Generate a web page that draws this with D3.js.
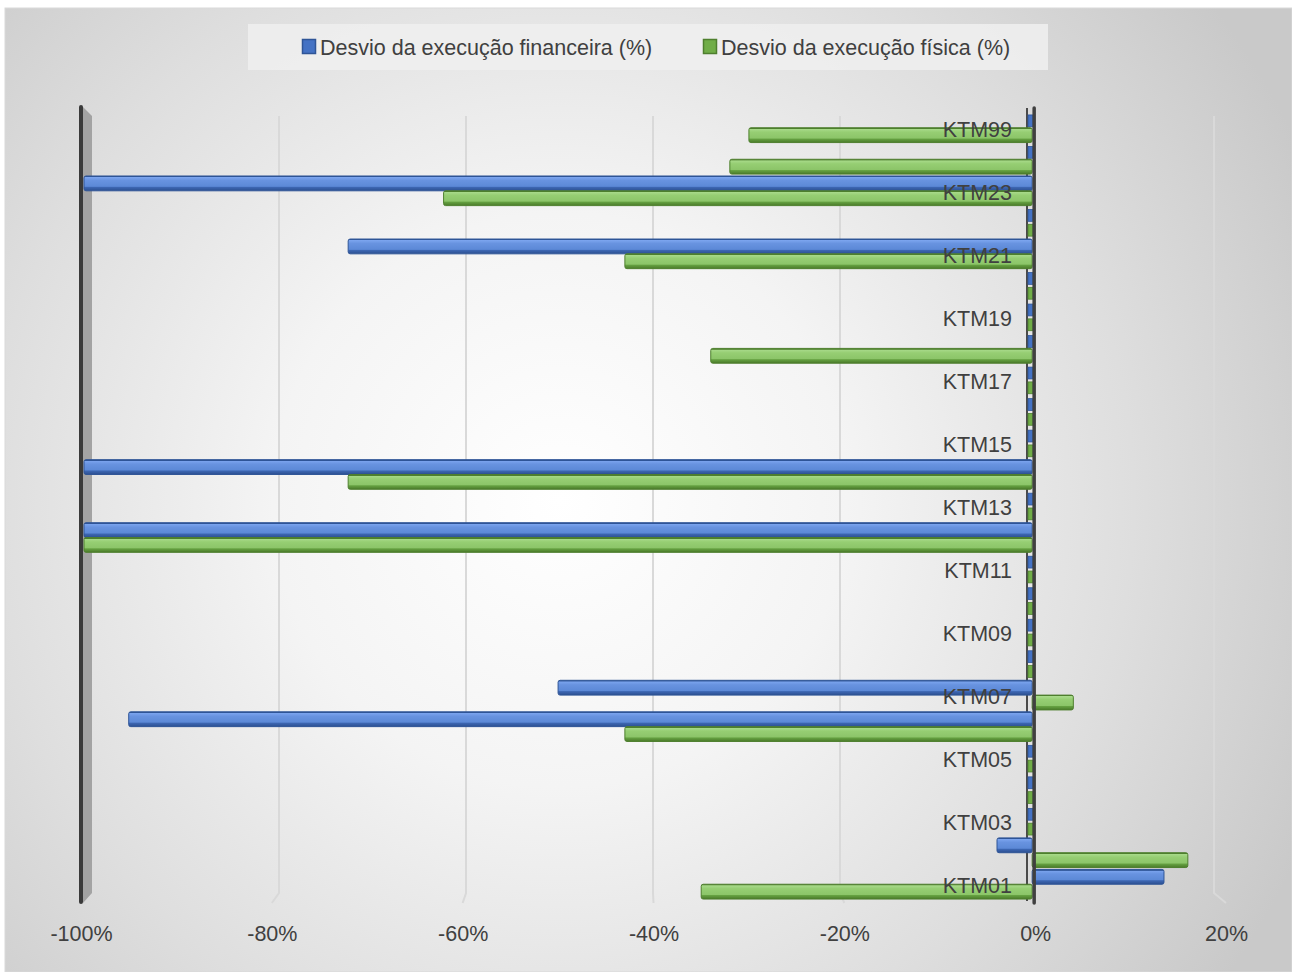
<!DOCTYPE html>
<html>
<head>
<meta charset="utf-8">
<script src="https://cdn.jsdelivr.net/npm/d3@7"></script>
<style>
  html, body { margin: 0; padding: 0; background: #ffffff; }
  svg { display: block; }
  text { font-family: "Liberation Sans", Arial, sans-serif; }
</style>
</head>
<body>
<svg id="chart" width="1292" height="972"></svg>
<script>
// ---------------- DATA ----------------
const categories = ["KTM01","KTM02","KTM03","KTM04","KTM05","KTM06","KTM07","KTM08","KTM09","KTM10",
  "KTM11","KTM12","KTM13","KTM14","KTM15","KTM16","KTM17","KTM18","KTM19","KTM20",
  "KTM21","KTM22","KTM23","KTM24","KTM99"];
const seriesNames = ["Desvio da execução financeira (%)", "Desvio da execução física (%)"];
const financeira = [13.5, -4, 0, 0, 0, -95, -50, 0, 0, 0, 0, -100, 0, -100, 0, 0, 0, 0, 0, 0, -72, 0, -100, 0, 0];
const fisica     = [-35, 16, 0, 0, 0, -43, 4, 0, 0, 0, 0, -100, 0, -72, 0, 0, 0, -34, 0, 0, -43, 0, -62, -32, -30];
const xTicks = [-100, -80, -60, -40, -20, 0, 20];
const yTickLabels = ["KTM01","KTM03","KTM05","KTM07","KTM09","KTM11","KTM13","KTM15","KTM17","KTM19","KTM21","KTM23","KTM99"];

// ---------------- SETUP ----------------
const svg = d3.select("#chart");
const defs = svg.append("defs");

const bg = defs.append("radialGradient").attr("id", "bgGrad")
  .attr("gradientUnits", "userSpaceOnUse")
  .attr("cx", 560).attr("cy", 500).attr("r", 820);
[[0, "#ffffff"], [0.35, "#f4f4f4"], [0.7, "#dedede"], [1, "#c9c9c9"]].forEach(([o, c]) =>
  bg.append("stop").attr("offset", o).attr("stop-color", c));

function barGrad(id, stops) {
  const g = defs.append("linearGradient").attr("id", id).attr("x1", 0).attr("y1", 0).attr("x2", 0).attr("y2", 1);
  stops.forEach(([o, c]) => g.append("stop").attr("offset", o).attr("stop-color", c));
}
barGrad("gradFin", [[0, "#2f5597"], [0.07, "#2f5597"], [0.09, "#7ba4ee"], [0.3, "#6893e0"], [0.7, "#5c89d7"], [0.76, "#3d67b3"], [1, "#2c4f90"]]);
barGrad("gradFis", [[0, "#4e7f2e"], [0.07, "#4e7f2e"], [0.09, "#a8da8a"], [0.3, "#96ce73"], [0.7, "#8cc569"], [0.76, "#65a141"], [1, "#4a7a2a"]]);
const seriesFill = ["url(#gradFin)", "url(#gradFis)"];
const seriesStroke = ["#2f5597", "#4e7f2e"];
const seriesFlat = ["#4472c4", "#70ad47"];

// background
svg.append("rect").attr("x", 5).attr("y", 8).attr("width", 1287).attr("height", 964)
  .attr("fill", "url(#bgGrad)").attr("stroke", "#d9d9d9").attr("stroke-width", 1);

// scales
const x = d3.scaleLinear().domain([-100, 20]).range([81, 1226]);      // front plane
const xBack = d3.scaleLinear().domain([-100, 20]).range([92, 1214]);  // back wall
const y = d3.scaleBand().domain(categories).range([900, 112]).paddingInner(0.06).paddingOuter(0.03);
const ySub = d3.scaleBand().domain([0, 1]).range([0, y.bandwidth()]);

const backTop = 116, backBottom = 893, frontBottom = 903;

// gridlines on back wall + floor diagonal
const grid = svg.append("g");
xTicks.filter(v => v !== -100 && v !== 0).forEach(v => {
  grid.append("path")
    .attr("d", `M${xBack(v)},${backTop} L${xBack(v)},${backBottom} L${x(v)},${frontBottom}`)
    .attr("fill", "none").attr("stroke", "#d9d9d9").attr("stroke-width", 2);
});

// side wall at -100%
svg.append("path")
  .attr("d", `M${x(-100) + 2},${backTop - 9} L${xBack(-100)},${backTop} L${xBack(-100)},${backBottom} L${x(-100) + 2},${frontBottom}Z`)
  .attr("fill", "#a3a3a3");

// back zero line
svg.append("line").attr("x1", xBack(0)).attr("x2", xBack(0)).attr("y1", backTop - 8).attr("y2", backBottom + 8)
  .attr("stroke", "#4a4a4a").attr("stroke-width", 2);

// bars
const seriesData = [financeira, fisica];
const barsG = svg.append("g");
seriesData.forEach((vals, s) => {
  const g = barsG.append("g");
  g.selectAll("rect.bar").data(vals.map((v, i) => ({ v, c: categories[i] })).filter(d => d.v !== 0))
    .join("rect").attr("class", "bar")
    .attr("x", d => Math.min(x(d.v) + (d.v <= -100 ? 3 : 0), x(0) - 3))
    .attr("width", d => Math.abs(x(d.v) + (d.v <= -100 ? 3 : 0) - (x(0) - 3)))
    .attr("y", d => y(d.c) + ySub(s))
    .attr("height", ySub.bandwidth())
    .attr("rx", 2)
    .attr("fill", seriesFill[s])
    .attr("stroke", seriesStroke[s]).attr("stroke-width", 1);
  // zero-value slivers seen edge-on
  g.selectAll("rect.zero").data(vals.map((v, i) => ({ v, c: categories[i] })).filter(d => d.v === 0))
    .join("rect").attr("class", "zero")
    .attr("x", xBack(0) + 1).attr("width", 5)
    .attr("y", d => y(d.c) + ySub(s) + 2)
    .attr("height", ySub.bandwidth() - 3)
    .attr("fill", seriesFlat[s]).attr("stroke", seriesStroke[s]).attr("stroke-width", 0.8);
});

// zero axis line (front)
svg.append("line").attr("x1", x(0) - 1).attr("x2", x(0) - 1).attr("y1", backTop - 8).attr("y2", frontBottom)
  .attr("stroke", "#404040").attr("stroke-width", 3.5).attr("stroke-linecap", "round");

// left axis line
svg.append("line").attr("x1", x(-100)).attr("x2", x(-100)).attr("y1", backTop - 9).attr("y2", frontBottom - 1)
  .attr("stroke", "#3a3a3a").attr("stroke-width", 4).attr("stroke-linecap", "round");

// category labels
const yAxis = d3.axisLeft(y).tickValues(yTickLabels).tickSize(0).tickPadding(0);
const yg = svg.append("g").attr("transform", `translate(1012,2)`).call(yAxis);
yg.select(".domain").remove();
yg.selectAll("text").attr("font-size", 21.5).attr("fill", "#404040")
  .attr("font-family", "'Liberation Sans', Arial, sans-serif");

// x tick labels
const xAxis = d3.axisBottom(x).tickValues(xTicks).tickSize(0).tickPadding(0).tickFormat(d => d + "%");
const xg = svg.append("g").attr("transform", `translate(0,926)`).call(xAxis);
xg.select(".domain").remove();
xg.selectAll("text").attr("font-size", 21.5).attr("fill", "#404040")
  .attr("font-family", "'Liberation Sans', Arial, sans-serif");

// legend
const leg = svg.append("g");
leg.append("rect").attr("x", 248).attr("y", 24).attr("width", 800).attr("height", 46)
  .attr("fill", "#eeeeee").attr("opacity", 0.9);
const legX = [302, 703];
seriesNames.forEach((name, s) => {
  leg.append("rect").attr("x", legX[s] + 0.5).attr("y", 39.5).attr("width", 13).attr("height", 14)
    .attr("fill", seriesFlat[s]).attr("stroke", seriesStroke[s]).attr("stroke-width", 1.5);
  leg.append("text").attr("x", legX[s] + 18).attr("y", 47).attr("dy", "0.35em")
    .attr("font-size", 21.5).attr("fill", "#404040").text(name);
});
</script>
</body>
</html>
